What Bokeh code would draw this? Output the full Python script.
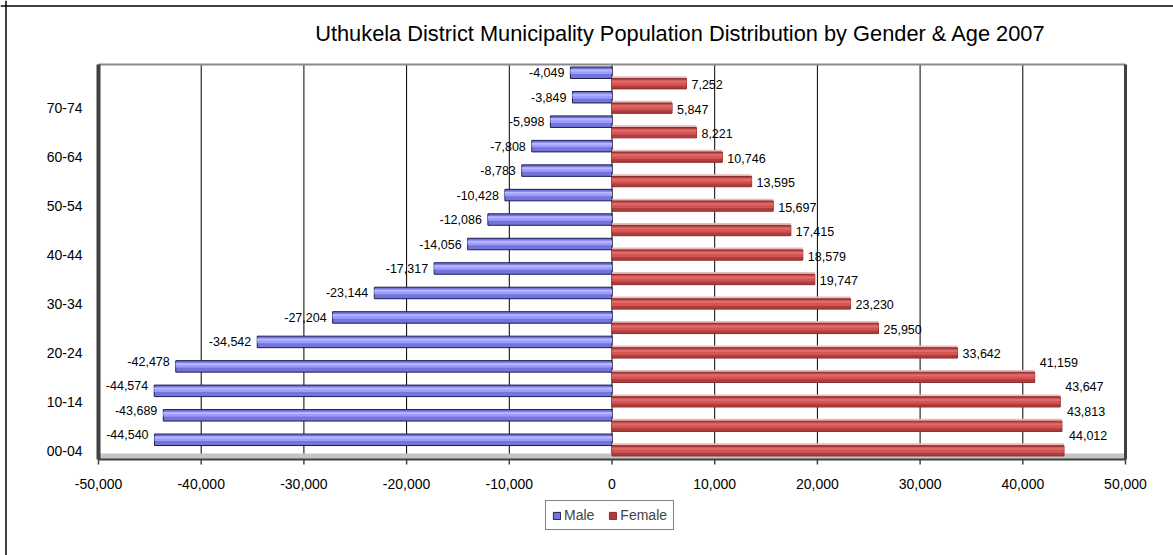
from bokeh.plotting import figure
from bokeh.models import (Range1d, Span, Label, Legend, LegendItem, ColumnDataSource)
from bokeh.core.properties import value
from bokeh.embed import file_html
from bokeh.resources import INLINE

# ---------------- data ----------------
age_groups = ["00-04", "05-09", "10-14", "15-19", "20-24", "25-29", "30-34", "35-39",
              "40-44", "45-49", "50-54", "55-59", "60-64", "65-69", "70-74", "75+"]
male = [-44540, -43689, -44574, -42478, -34542, -27204, -23144, -17317,
        -14056, -12086, -10428, -8783, -7808, -5998, -3849, -4049]
female = [44012, 43813, 43647, 41159, 33642, 25950, 23230, 19747,
          18579, 17415, 15697, 13595, 10746, 8221, 5847, 7252]
x_ticks = [-50000, -40000, -30000, -20000, -10000, 0, 10000, 20000, 30000, 40000, 50000]
title_text = "Uthukela District Municipality Population Distribution by Gender &  Age 2007"
series_names = ["Male", "Female"]

# ---------------- layout / style constants ----------------
FONT = "Liberation Sans"
W, H = 1173, 555
X_MIN, X_MAX = x_ticks[0], x_ticks[-1]
PLOT_LEFT_PX, PLOT_RIGHT_PX = 98, 1125        # where X_MIN / X_MAX sit on the canvas
PXX = (PLOT_RIGHT_PX - PLOT_LEFT_PX) / (X_MAX - X_MIN)   # px per person
PXY = 24.47                                   # px per category
ZERO_Y_PX = 450.3                             # canvas y of first category
Y0 = -(459 - ZERO_Y_PX) / PXY                 # floor of plot area
Y1 = (ZERO_Y_PX - 64) / PXY                   # top of plot area
MALE_SHIFT = 0.45                             # male bar sits above the female bar

x_lo = X_MIN - PLOT_LEFT_PX / PXX
x_hi = X_MAX + (W - PLOT_RIGHT_PX) / PXX
y_lo = -(H - ZERO_Y_PX) / PXY
y_hi = ZERO_Y_PX / PXY

idx = list(range(len(age_groups)))
male_y = [i + MALE_SHIFT for i in idx]
female_y = [float(i) for i in idx]

src_m = ColumnDataSource(dict(
    y=male_y, v=male,
    lab=[f"{v:,}" for v in male],
    yoff=[-5 if abs(v) > 40000 else 0 for v in male]))
src_f = ColumnDataSource(dict(
    y=female_y, v=female,
    lab=[f"{v:,}" for v in female],
    yoff=[-15 if abs(v) > 40000 else 1 for v in female]))

p = figure(width=W, height=H, output_backend="svg", toolbar_location=None,
           x_range=Range1d(x_lo, x_hi), y_range=Range1d(y_lo, y_hi),
           x_axis_location=None, y_axis_location=None,
           min_border_left=0, min_border_right=0, min_border_top=0, min_border_bottom=0)
p.outline_line_color = None
p.background_fill_color = "white"
p.border_fill_color = "white"
p.grid.grid_line_color = None

# outer chart border (left and top edges visible)
p.add_layout(Span(location=x_lo + 5.5 / PXX, dimension="height",
                  line_color="#000000", line_width=1.5))
p.add_layout(Span(location=y_hi - 5.5 / PXY, dimension="width",
                  line_color="#000000", line_width=1.5))

# vertical gridlines
inner_ticks = x_ticks[1:-1]
p.segment(x0=inner_ticks, y0=Y0, x1=inner_ticks, y1=Y1, line_color="#000000", line_width=1)

# back wall top, floor, walls
p.segment(x0=X_MIN, y0=Y1, x1=X_MAX, y1=Y1, line_color="#8a8a8a", line_width=2)
p.quad(left=X_MIN, right=X_MAX, bottom=Y0, top=Y0 + 6 / PXY,
       fill_color="#c4c4c4", line_color=None)
p.segment(x0=X_MIN, y0=Y0, x1=X_MAX, y1=Y0, line_color="#404040", line_width=2)
p.segment(x0=X_MIN, y0=Y0, x1=X_MIN, y1=Y1, line_color="#404040", line_width=4)
p.segment(x0=X_MAX, y0=Y0, x1=X_MAX, y1=Y1, line_color="#404040", line_width=3)

# x ticks
p.segment(x0=x_ticks, y0=Y0, x1=x_ticks, y1=Y0 - 5 / PXY, line_color="#404040", line_width=1.5)

# male bars (cylinder look)
m_base = p.hbar(y="y", right="v", left=0, height=0.47, source=src_m,
                fill_color="#7474dc", line_color="#1c1c50", line_width=1)
p.hbar(y=[y + 0.05 for y in male_y], right=male, left=0, height=0.2,
       fill_color="#9c9cff", line_color=None)
p.hbar(y=[y + 0.09 for y in male_y], right=male, left=0, height=0.07,
       fill_color="#b8b8ff", line_color=None)

# female bars
p.hbar(y=[y + 0.26 for y in female_y], right=female, left=0, height=0.09,
       fill_color="#e6bcbc", line_color=None)
f_base = p.hbar(y="y", right="v", left=0, height=0.42, source=src_f,
                fill_color="#b03c3c", line_color="#8a2c2c", line_width=1)
p.hbar(y=[y + 0.04 for y in female_y], right=female, left=0, height=0.24,
       fill_color="#d45454", line_color=None)
p.hbar(y=[y + 0.08 for y in female_y], right=female, left=0, height=0.08,
       fill_color="#df6c6c", line_color=None)

# data labels
p.text(x="v", y="y", text="lab", source=src_m, text_align="right", text_baseline="middle",
       x_offset=-6, y_offset="yoff", text_font=value(FONT), text_font_size="12.5px",
       text_color="#000000")
p.text(x="v", y="y", text="lab", source=src_f, text_align="left", text_baseline="middle",
       x_offset=5, y_offset="yoff", text_font=value(FONT), text_font_size="12.5px",
       text_color="#000000")

# x tick labels
p.text(x=x_ticks, y=[Y0] * len(x_ticks), text=[f"{t:,}" for t in x_ticks],
       text_align="center", text_baseline="middle", y_offset=24,
       text_font=value(FONT), text_font_size="14px", text_color="#000000")

# y tick labels (every second age group)
p.text(x=[X_MIN] * len(idx[::2]), y=idx[::2], text=[age_groups[i] for i in idx[::2]],
       text_align="right", text_baseline="middle", x_offset=-16,
       text_font=value(FONT), text_font_size="14px", text_color="#000000")

# title
p.add_layout(Label(x=683, y=H - 33, x_units="screen", y_units="screen", text=title_text,
                   text_align="center", text_baseline="middle", text_font=FONT,
                   text_font_size="21.8px", text_color="#000000"))

# legend
legend = Legend(items=[LegendItem(label=series_names[0], renderers=[m_base]),
                       LegendItem(label=series_names[1], renderers=[f_base])],
                orientation="horizontal", location=(545, H - 530),
                border_line_color="#000000", border_line_width=1,
                background_fill_color="white", background_fill_alpha=1,
                label_text_font=FONT, label_text_font_size="14px",
                glyph_width=9, glyph_height=9, label_standoff=3, spacing=14,
                padding=6, margin=0, label_height=11)
p.add_layout(legend, "center")

open("out.html", "w").write(file_html(p, INLINE))
